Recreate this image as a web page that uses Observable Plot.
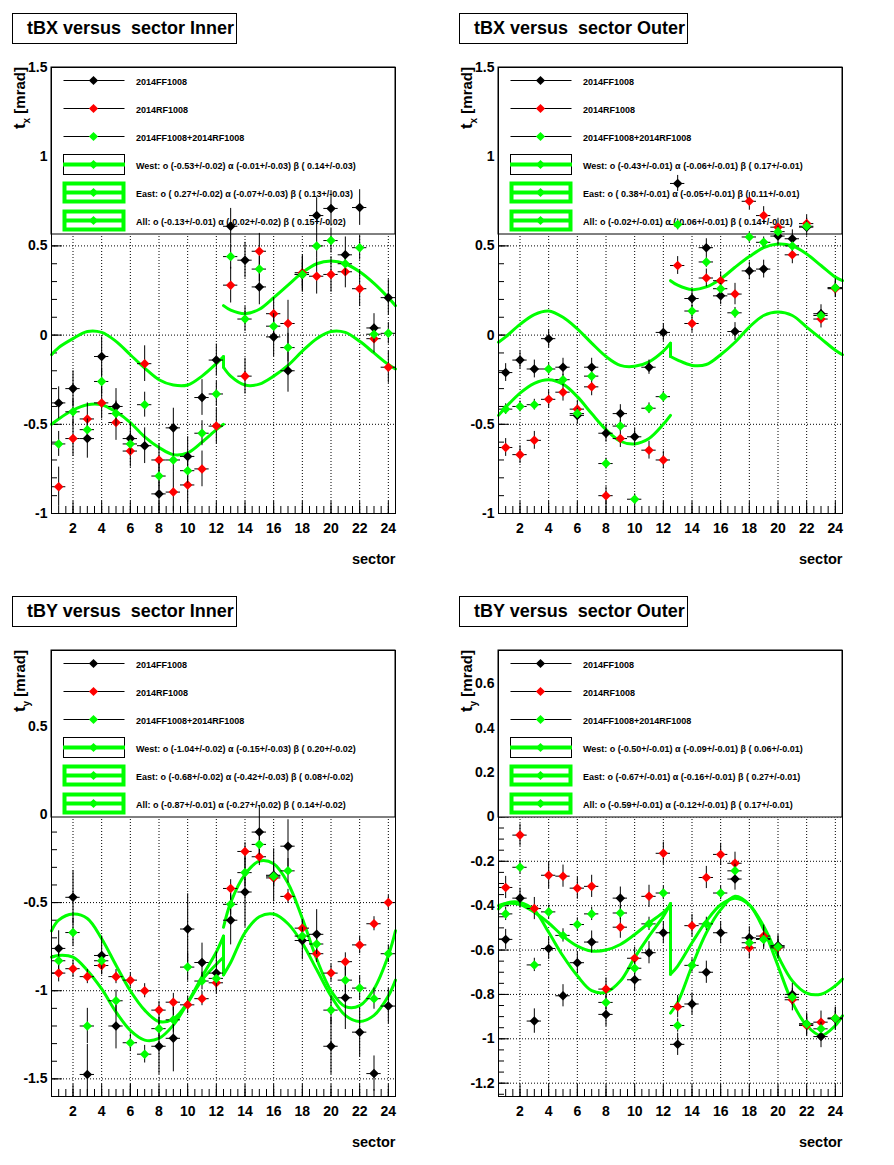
<!DOCTYPE html>
<html>
<head>
<meta charset="utf-8">
<script src="https://cdn.jsdelivr.net/npm/d3@7"></script>
<script src="https://cdn.jsdelivr.net/npm/@observablehq/plot@0.6"></script>
<style>
  html, body { margin: 0; padding: 0; background: #fff; }
  #root { position: relative; width: 894px; height: 1165px; font-family: "Liberation Sans", Arial, sans-serif; }
  .panel { position: absolute; width: 447px; height: 583px; }
  .title { position: absolute; left: 12px; top: 13px; height: 31px; box-sizing: border-box; border: 1px solid #000;
           background: #fff; font-weight: bold; font-size: 18px; line-height: 29px; padding-left: 14px; white-space: pre; }
</style>
</head>
<body>
<div id="root"></div>
<script>
// ---------------- data ----------------
const sectors = [1,2,3,4,5,6,7,8,9,10,11,12,13,14,15,16,17,18,19,20,21,22,23,24];
const curveLeftSectors  = [0.5,1,2,3,4,5,6,7,8,9,10,11,12,12.5];
const curveRightSectors = [12.5,13,14,15,16,17,18,19,20,21,22,23,24,24.5];
const xTickLabels = [2,4,6,8,10,12,14,16,18,20,22,24];
const seriesNames = ["2014FF1008", "2014RF1008", "2014FF1008+2014RF1008"];

// tBX Inner
const txInnerFF   = [-0.38,-0.30,-0.58,-0.12,-0.40,-0.58,-0.62,-0.89,-0.52,-0.68,-0.35,-0.14,0.61,0.42,0.27,-0.01,-0.20,0.34,0.67,0.71,0.45,0.715,0.04,0.21];
const txInnerFFe  = [0.09,0.10,0.11,0.11,0.10,0.09,0.10,0.10,0.11,0.11,0.10,0.09,0.10,0.10,0.10,0.11,0.12,0.10,0.10,0.10,0.10,0.10,0.08,0.10];
const txInnerRF   = [-0.85,-0.58,-0.47,-0.38,-0.49,-0.65,-0.16,-0.70,-0.88,-0.84,-0.75,-0.51,0.28,-0.23,0.47,0.12,0.065,0.35,0.33,0.34,0.355,0.26,-0.02,-0.18];
const txInnerRFe  = [0.11,0.10,0.09,0.09,0.10,0.09,0.10,0.09,0.11,0.10,0.10,0.10,0.10,0.10,0.10,0.09,0.13,0.10,0.10,0.10,0.09,0.10,0.08,0.09];
const txInnerAll  = [-0.61,-0.43,-0.53,-0.26,-0.44,-0.61,-0.39,-0.79,-0.70,-0.76,-0.55,-0.33,0.44,0.09,0.37,0.05,-0.07,0.34,0.50,0.53,0.40,0.49,0.005,0.01];
const txInnerAlle = [0.07,0.07,0.06,0.07,0.07,0.06,0.07,0.07,0.07,0.07,0.07,0.07,0.07,0.07,0.07,0.07,0.08,0.07,0.07,0.07,0.07,0.07,0.05,0.06];
const txInnerWest = [-0.50,-0.47,-0.42,-0.39,-0.39,-0.43,-0.49,-0.57,-0.63,-0.67,-0.66,-0.60,-0.53,-0.50];
const txInnerFitL = [-0.11,-0.07,-0.02,0.02,0.015,-0.035,-0.11,-0.185,-0.25,-0.28,-0.28,-0.23,-0.16,-0.12];
const txInnerFitR = [-0.18,-0.23,-0.28,-0.275,-0.23,-0.17,-0.09,-0.02,0.02,0.015,-0.035,-0.10,-0.165,-0.19];
const txInnerEast = [0.165,0.14,0.12,0.145,0.21,0.28,0.35,0.40,0.415,0.40,0.355,0.29,0.21,0.165];
const txInnerFitText = ["West: o (-0.53+/-0.02) \u03b1 (-0.01+/-0.03) \u03b2 ( 0.14+/-0.03)",
                        "East: o ( 0.27+/-0.02) \u03b1 (-0.07+/-0.03) \u03b2 ( 0.13+/-0.03)",
                        "All: o (-0.13+/-0.01) \u03b1 (-0.02+/-0.02) \u03b2 ( 0.15+/-0.02)"];

// tBX Outer
const txOuterFF   = [-0.21,-0.14,-0.19,-0.02,-0.18,-0.45,-0.18,-0.55,-0.44,-0.57,-0.18,0.015,0.85,0.205,0.49,0.22,0.02,0.36,0.37,0.555,0.54,0.605,0.12,0.265];
const txOuterFFe  = [0.05,0.05,0.05,0.05,0.05,0.05,0.05,0.05,0.05,0.05,0.04,0.05,0.045,0.05,0.05,0.05,0.05,0.05,0.05,0.05,0.05,0.05,0.05,0.05];
const txOuterRF   = [-0.63,-0.67,-0.59,-0.36,-0.32,-0.415,-0.29,-0.90,-0.58,-1.20,-0.645,-0.70,0.39,0.065,0.32,0.305,0.23,0.75,0.67,0.605,0.45,0.625,0.09,0.26];
const txOuterRFe  = [0.05,0.05,0.05,0.05,0.05,0.05,0.05,0.05,0.05,0.05,0.05,0.05,0.05,0.05,0.05,0.05,0.06,0.05,0.05,0.05,0.05,0.05,0.05,0.05];
const txOuterAll  = [-0.415,-0.40,-0.39,-0.19,-0.25,-0.44,-0.23,-0.72,-0.51,-0.92,-0.41,-0.345,0.62,0.135,0.41,0.26,0.125,0.55,0.52,0.58,0.50,0.61,0.11,0.265];
const txOuterAlle = [0.03,0.03,0.03,0.03,0.03,0.03,0.03,0.03,0.03,0.03,0.03,0.03,0.03,0.03,0.03,0.03,0.03,0.03,0.03,0.03,0.03,0.03,0.03,0.03];
const txOuterWest = [-0.45,-0.405,-0.325,-0.27,-0.25,-0.275,-0.345,-0.44,-0.53,-0.595,-0.61,-0.58,-0.50,-0.45];
const txOuterFitL = [-0.04,-0.01,0.06,0.115,0.135,0.10,0.035,-0.045,-0.12,-0.17,-0.175,-0.15,-0.09,-0.045];
const txOuterFitR = [-0.12,-0.14,-0.17,-0.165,-0.11,-0.04,0.045,0.11,0.13,0.11,0.045,-0.02,-0.085,-0.11];
const txOuterEast = [0.305,0.28,0.255,0.27,0.315,0.38,0.44,0.49,0.51,0.50,0.455,0.39,0.325,0.305];
const txOuterFitText = ["West: o (-0.43+/-0.01) \u03b1 (-0.06+/-0.01) \u03b2 ( 0.17+/-0.01)",
                        "East: o ( 0.38+/-0.01) \u03b1 (-0.05+/-0.01) \u03b2 ( 0.11+/-0.01)",
                        "All: o (-0.02+/-0.01) \u03b1 (-0.06+/-0.01) \u03b2 ( 0.14+/-0.01)"];

// tBY Inner
const tyInnerFF   = [-0.76,-0.47,-1.475,-0.80,-1.20,-1.68,-1.75,-1.315,-1.27,-0.65,-0.84,-0.90,-0.60,-0.44,-0.10,-0.345,-0.18,-0.715,-0.68,-1.315,-1.04,-1.235,-1.47,-1.087];
const tyInnerFFe  = [0.10,0.15,0.17,0.11,0.13,0.15,0.15,0.16,0.19,0.20,0.11,0.12,0.14,0.20,0.15,0.15,0.15,0.11,0.14,0.16,0.18,0.14,0.10,0.10];
const tyInnerRF   = [-0.90,-0.875,-0.92,-0.857,-0.92,-0.94,-1.00,-1.11,-1.065,-1.08,-1.045,-0.955,-0.42,-0.21,-0.24,-0.36,-0.465,-0.645,-0.79,-0.90,-0.835,-0.74,-0.62,-0.50];
const tyInnerRFe  = [0.05,0.05,0.04,0.05,0.04,0.04,0.04,0.05,0.05,0.05,0.04,0.05,0.05,0.05,0.05,0.05,0.04,0.05,0.05,0.05,0.05,0.05,0.04,0.04];
const tyInnerAll  = [-0.83,-0.67,-1.20,-0.83,-1.057,-1.295,-1.36,-1.215,-1.165,-0.866,-0.945,-0.93,-0.51,-0.33,-0.17,-0.35,-0.32,-0.69,-0.735,-1.11,-0.94,-0.985,-1.045,-0.79];
const tyInnerAlle = [0.05,0.08,0.10,0.05,0.06,0.05,0.05,0.06,0.07,0.08,0.05,0.05,0.06,0.08,0.06,0.06,0.07,0.05,0.06,0.08,0.07,0.07,0.06,0.05];
const tyInnerWest = [-0.81,-0.80,-0.81,-0.885,-0.99,-1.12,-1.225,-1.28,-1.27,-1.195,-1.07,-0.94,-0.85,-0.81];
const tyInnerFitL = [-0.66,-0.60,-0.565,-0.59,-0.705,-0.855,-1.00,-1.11,-1.175,-1.16,-1.065,-0.92,-0.78,-0.69];
const tyInnerFitR = [-0.91,-0.84,-0.67,-0.58,-0.565,-0.62,-0.73,-0.88,-1.03,-1.14,-1.175,-1.14,-1.03,-0.94];
const tyInnerEast = [-0.64,-0.50,-0.34,-0.265,-0.28,-0.39,-0.59,-0.82,-1.00,-1.09,-1.085,-0.99,-0.80,-0.66];
const tyInnerFitText = ["West: o (-1.04+/-0.02) \u03b1 (-0.15+/-0.03) \u03b2 ( 0.20+/-0.02)",
                        "East: o (-0.68+/-0.02) \u03b1 (-0.42+/-0.03) \u03b2 ( 0.08+/-0.02)",
                        "All: o (-0.87+/-0.01) \u03b1 (-0.27+/-0.02) \u03b2 ( 0.14+/-0.02)"];

// tBY Outer
const tyOuterFF   = [-0.552,-0.366,-0.92,-0.593,-0.806,-0.657,-0.564,-0.89,-0.366,-0.734,-0.612,-0.522,-1.025,-0.843,-0.70,-0.522,-0.28,-0.545,-0.548,-0.58,-0.80,-0.933,-0.99,-0.91];
const tyOuterFFe  = [0.045,0.045,0.055,0.05,0.05,0.05,0.05,0.055,0.05,0.05,0.05,0.05,0.05,0.05,0.05,0.05,0.05,0.05,0.05,0.05,0.05,0.05,0.05,0.05];
const tyOuterRF   = [-0.318,-0.082,-0.413,-0.263,-0.267,-0.321,-0.313,-0.776,-0.497,-0.637,-0.358,-0.164,-0.855,-0.49,-0.273,-0.169,-0.209,-0.59,-0.537,-0.59,-0.824,-0.94,-0.925,-0.907];
const tyOuterRFe  = [0.05,0.05,0.05,0.06,0.05,0.05,0.05,0.05,0.05,0.05,0.05,0.05,0.05,0.05,0.05,0.05,0.05,0.05,0.05,0.05,0.05,0.05,0.05,0.05];
const tyOuterAll  = [-0.437,-0.227,-0.667,-0.428,-0.534,-0.485,-0.437,-0.836,-0.433,-0.682,-0.482,-0.343,-0.94,-0.669,-0.482,-0.343,-0.243,-0.567,-0.552,-0.585,-0.813,-0.933,-0.955,-0.907];
const tyOuterAlle = [0.03,0.03,0.03,0.03,0.03,0.03,0.03,0.03,0.03,0.03,0.03,0.03,0.03,0.03,0.03,0.03,0.03,0.03,0.03,0.03,0.03,0.03,0.03,0.03];
const tyOuterWest = [-0.40,-0.39,-0.395,-0.43,-0.478,-0.537,-0.582,-0.604,-0.60,-0.575,-0.53,-0.478,-0.43,-0.40];
const tyOuterFitL = [-0.415,-0.39,-0.385,-0.42,-0.52,-0.627,-0.716,-0.783,-0.79,-0.74,-0.634,-0.537,-0.448,-0.39];
const tyOuterFitR = [-0.709,-0.672,-0.567,-0.47,-0.396,-0.366,-0.396,-0.493,-0.627,-0.739,-0.794,-0.799,-0.761,-0.731];
const tyOuterEast = [-0.884,-0.836,-0.672,-0.522,-0.418,-0.358,-0.396,-0.507,-0.672,-0.836,-0.94,-0.985,-0.94,-0.896];
const tyOuterFitText = ["West: o (-0.50+/-0.01) \u03b1 (-0.09+/-0.01) \u03b2 ( 0.06+/-0.01)",
                        "East: o (-0.67+/-0.01) \u03b1 (-0.16+/-0.01) \u03b2 ( 0.27+/-0.01)",
                        "All: o (-0.59+/-0.01) \u03b1 (-0.12+/-0.01) \u03b2 ( 0.17+/-0.01)"];

// axis tick labels
const yTicksTX = [-1, -0.5, 0, 0.5, 1, 1.5];
const yTicksTYInner = [-1.5, -1, -0.5, 0, 0.5];
const yTicksTYOuter = [-1.2, -1, -0.8, -0.6, -0.4, -0.2, 0, 0.2, 0.4, 0.6];

// ---------------- drawing ----------------
const W = 447, H = 583, ML = 51, MR = 52, MT = 67, MB = 70, LEG_H = 167;
const GREEN = "#00ff00", RED = "#ff0000", BLACK = "#000000";
const FONT = "'Liberation Sans', Arial, Helvetica, sans-serif";
const diamond = { draw(ctx, size) { const r = Math.sqrt(size / 2); ctx.moveTo(0, -r); ctx.lineTo(r, 0); ctx.lineTo(0, r); ctx.lineTo(-r, 0); ctx.closePath(); } };

function legendMark(fitText) {
  return (index, scales, values, dims) => {
    const g = d3.create("svg:g").attr("text-anchor", "start");
    const x0 = dims.marginLeft, t = dims.marginTop, w = dims.width - dims.marginLeft - dims.marginRight;
    g.append("rect").attr("x", x0).attr("y", t).attr("width", w).attr("height", LEG_H)
      .attr("fill", "#fff").attr("stroke", "#000");
    const labels = seriesNames.concat(fitText);
    const colors = [BLACK, RED, GREEN, GREEN, GREEN, GREEN];
    labels.forEach((lab, i) => {
      const cy = t + 13.5 + 28 * i, lx0 = x0 + 12.5, lx1 = x0 + 73.5, mx = x0 + 42.5;
      if (i < 3) {
        g.append("line").attr("x1", lx0).attr("x2", lx1).attr("y1", cy).attr("y2", cy).attr("stroke", "#000");
      } else if (i === 3) {
        g.append("rect").attr("x", lx0).attr("y", cy - 10).attr("width", lx1 - lx0).attr("height", 20)
          .attr("fill", "none").attr("stroke", "#000");
        g.append("line").attr("x1", lx0 - 0.5).attr("x2", lx1 + 0.5).attr("y1", cy).attr("y2", cy)
          .attr("stroke", GREEN).attr("stroke-width", 4);
      } else {
        g.append("rect").attr("x", lx0 + 1).attr("y", cy - 9).attr("width", lx1 - lx0 - 2).attr("height", 18)
          .attr("fill", "none").attr("stroke", GREEN).attr("stroke-width", 4);
        g.append("line").attr("x1", lx0).attr("x2", lx1).attr("y1", cy).attr("y2", cy)
          .attr("stroke", GREEN).attr("stroke-width", 4);
      }
      const r = 4.6;
      g.append("path").attr("d", `M${mx},${cy - r}L${mx + r},${cy}L${mx},${cy + r}L${mx - r},${cy}Z`).attr("fill", colors[i]);
      g.append("text").attr("x", x0 + 85).attr("y", cy + 4.5).attr("font-size", 9).attr("font-weight", "bold")
        .attr("text-anchor", "start").attr("font-family", FONT).style("white-space", "pre").text(lab);
    });
    return g.node();
  };
}

function yLabelMark(sub) {
  return (index, scales, values, dims) => {
    const t = d3.create("svg:text")
      .attr("transform", `translate(25,${dims.marginTop}) rotate(-90)`)
      .attr("text-anchor", "end").attr("font-weight", "bold").attr("font-size", 15)
      .attr("font-family", FONT).style("white-space", "pre");
    t.append("tspan").attr("font-size", 17).text("t");
    t.append("tspan").attr("dy", 5).attr("font-size", 10).text(sub);
    t.append("tspan").attr("dy", -5).text(" [mrad]");
    return t.node();
  };
}

function makePanel(cfg) {
  const [y0, y1] = cfg.yDomain;
  const pxX = (W - ML - MR) / 24, pxY = (H - MT - MB) / (y1 - y0);
  const clampY = v => Math.max(y0, Math.min(y1, v));
  const yMinor = d3.range(Math.ceil(y0 / cfg.minorStep - 1e-6), Math.floor(y1 / cfg.minorStep + 1e-6) + 1)
    .map(k => +(k * cfg.minorStep).toFixed(4));
  const xMinor = d3.range(2, 49).map(k => k / 2);
  const gridY = cfg.yTicks.filter(v => v > y0 + 1e-6 && v < y1 - 1e-6);

  const marks = [
    Plot.ruleY(gridY, {stroke: "#000", strokeDasharray: "1,2"}),
    Plot.ruleX(xTickLabels, {y1: y0, y2: y1, stroke: "#000", strokeDasharray: "1,2"}),
    Plot.ruleY(yMinor, {x1: 0.5, x2: 0.5 + 6 / pxX, stroke: "#000"}),
    Plot.ruleY(cfg.yTicks, {x1: 0.5, x2: 0.5 + 11 / pxX, stroke: "#000"}),
    Plot.ruleX(xMinor, {y1: y0, y2: y0 + 7 / pxY, stroke: "#000"}),
    Plot.ruleX(xTickLabels, {y1: y0, y2: y0 + 12 / pxY, stroke: "#000"}),
    legendMark(cfg.fitText),
    Plot.axisY({ticks: cfg.yTicks, tickSize: 0, tickPadding: 4, tickFormat: d => String(d), label: null,
                fontSize: 14, fontWeight: "bold", fill: "#000"}),
    Plot.axisX({ticks: xTickLabels, tickSize: 0, tickPadding: 10, tickFormat: d => String(d), label: null,
                fontSize: 14, fontWeight: "bold", fill: "#000"})
  ];

  // fit curves
  const curve = (xs, ys) => xs.map((x, i) => ({x, y: ys[i]}));
  const curveOpts = {x: "x", y: "y", stroke: GREEN, strokeWidth: 3, curve: "catmull-rom"};
  marks.push(
    Plot.line(curve(curveLeftSectors, cfg.west), curveOpts),
    Plot.line(curve(curveLeftSectors, cfg.fitL), curveOpts),
    Plot.line(curve(curveRightSectors, cfg.fitR), curveOpts),
    Plot.line([{x: curveLeftSectors[13], y: cfg.fitL[13]}, {x: curveRightSectors[0], y: cfg.fitR[0]}], {...curveOpts, curve: "linear"}),
    Plot.line(curve(curveRightSectors, cfg.east), curveOpts)
  );

  // data series: black, red, green
  const series = [[cfg.ff, cfg.ffE, BLACK], [cfg.rf, cfg.rfE, RED], [cfg.all, cfg.allE, GREEN]];
  for (const [vals, errs, color] of series) {
    const rows = sectors.map((s, i) => ({s, v: vals[i], e: errs[i]}));
    const barRows = rows.filter(d => d.v + d.e > y0 && d.v - d.e < y1);
    const inRows = rows.filter(d => d.v >= y0 && d.v <= y1);
    marks.push(
      Plot.ruleX(barRows, {x: "s", y1: d => clampY(d.v - d.e), y2: d => clampY(d.v + d.e), stroke: "#000"}),
      Plot.ruleY(inRows, {y: "v", x1: d => d.s - 0.5, x2: d => d.s + 0.5, stroke: "#000"}),
      Plot.dot(inRows, {x: "s", y: "v", symbol: diamond, r: 3.8, fill: color, stroke: "none"})
    );
  }

  marks.push(
    Plot.frame({stroke: "#000"}),
    yLabelMark(cfg.sub),
    Plot.text(["sector"], {text: d => d, frameAnchor: "bottom-right", textAnchor: "end", lineAnchor: "bottom",
                           dy: 50, fontSize: 14.5, fontWeight: "bold", fill: "#000"})
  );

  const svg = Plot.plot({
    width: W, height: H,
    marginLeft: ML, marginRight: MR, marginTop: MT, marginBottom: MB,
    x: {domain: [0.5, 24.5]},
    y: {domain: [y0, y1]},
    style: {fontFamily: FONT, background: "transparent", overflow: "visible", color: "#000"},
    marks
  });

  const div = document.createElement("div");
  div.className = "panel";
  div.style.left = cfg.left + "px";
  div.style.top = cfg.top + "px";
  div.appendChild(svg);
  const title = document.createElement("div");
  title.className = "title";
  title.style.width = cfg.titleWidth + "px";
  title.textContent = cfg.title;
  div.appendChild(title);
  document.getElementById("root").appendChild(div);
}

const panels = [
  {title: "tBX versus  sector Inner", titleWidth: 225, left: 0, top: 0, sub: "x", yDomain: [-1, 1.5], yTicks: yTicksTX, minorStep: 0.1,
   ff: txInnerFF, ffE: txInnerFFe, rf: txInnerRF, rfE: txInnerRFe, all: txInnerAll, allE: txInnerAlle,
   west: txInnerWest, fitL: txInnerFitL, fitR: txInnerFitR, east: txInnerEast, fitText: txInnerFitText},
  {title: "tBX versus  sector Outer", titleWidth: 229, left: 447, top: 0, sub: "x", yDomain: [-1, 1.5], yTicks: yTicksTX, minorStep: 0.1,
   ff: txOuterFF, ffE: txOuterFFe, rf: txOuterRF, rfE: txOuterRFe, all: txOuterAll, allE: txOuterAlle,
   west: txOuterWest, fitL: txOuterFitL, fitR: txOuterFitR, east: txOuterEast, fitText: txOuterFitText},
  {title: "tBY versus  sector Inner", titleWidth: 225, left: 0, top: 583, sub: "y", yDomain: [-1.6, 0.93], yTicks: yTicksTYInner, minorStep: 0.1,
   ff: tyInnerFF, ffE: tyInnerFFe, rf: tyInnerRF, rfE: tyInnerRFe, all: tyInnerAll, allE: tyInnerAlle,
   west: tyInnerWest, fitL: tyInnerFitL, fitR: tyInnerFitR, east: tyInnerEast, fitText: tyInnerFitText},
  {title: "tBY versus  sector Outer", titleWidth: 229, left: 447, top: 583, sub: "y", yDomain: [-1.26, 0.75], yTicks: yTicksTYOuter, minorStep: 0.05,
   ff: tyOuterFF, ffE: tyOuterFFe, rf: tyOuterRF, rfE: tyOuterRFe, all: tyOuterAll, allE: tyOuterAlle,
   west: tyOuterWest, fitL: tyOuterFitL, fitR: tyOuterFitR, east: tyOuterEast, fitText: tyOuterFitText}
];
panels.forEach(makePanel);
</script>
</body>
</html>
